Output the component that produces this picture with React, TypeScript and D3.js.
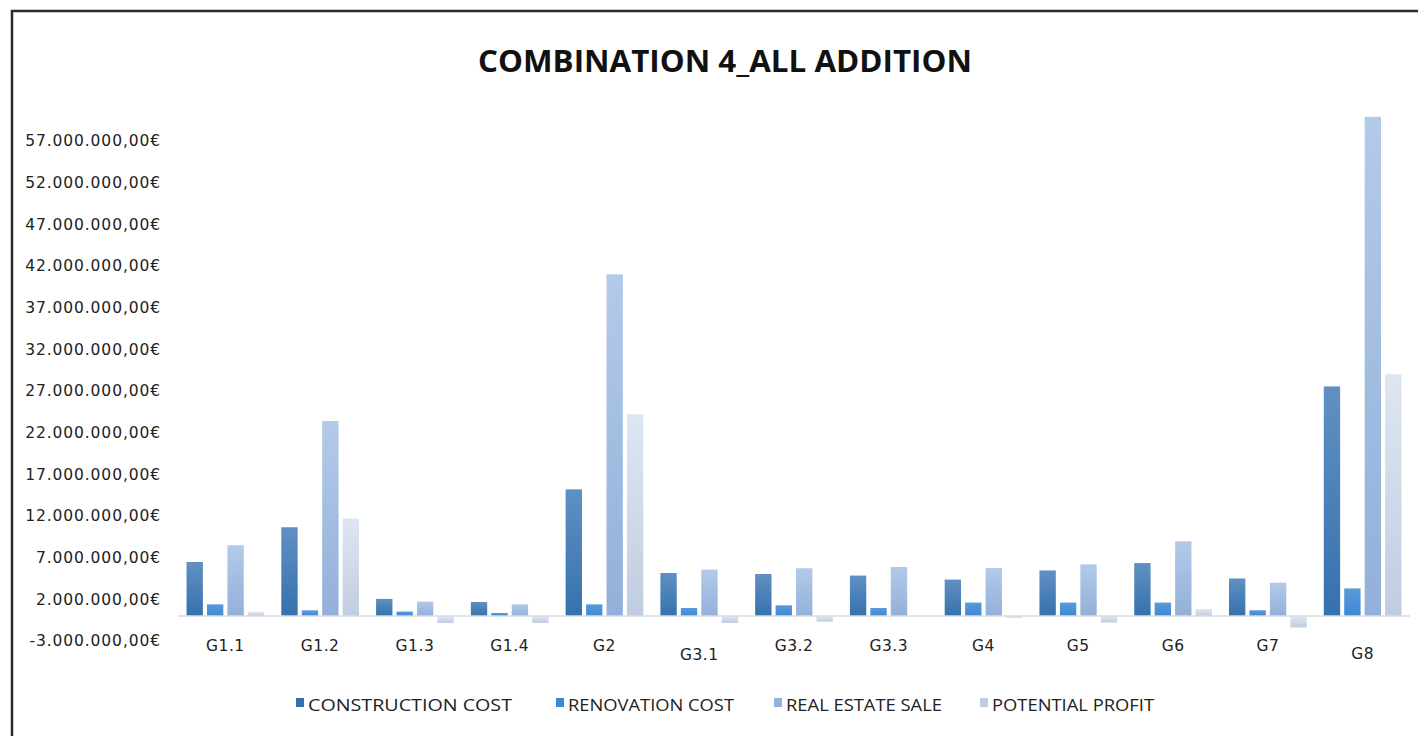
import React from "react";
import * as d3 from "d3";

const categories = ["G1.1", "G1.2", "G1.3", "G1.4", "G2", "G3.1", "G3.2", "G3.3", "G4", "G5", "G6", "G7", "G8"];
const seriesNames = ["CONSTRUCTION COST", "RENOVATION COST", "REAL ESTATE SALE", "POTENTIAL PROFIT"];
const constructionCost = [6.48e6, 10.65e6, 2.05e6, 1.68e6, 15.2e6, 5.16e6, 5.04e6, 4.85e6, 4.37e6, 5.47e6, 6.35e6, 4.5e6, 27.55e6];
const renovationCost = [1.4e6, 0.68e6, 0.53e6, 0.36e6, 1.4e6, 0.96e6, 1.28e6, 0.96e6, 1.61e6, 1.61e6, 1.61e6, 0.69e6, 3.31e6];
const realEstateSale = [8.49e6, 23.4e6, 1.73e6, 1.4e6, 41.0e6, 5.57e6, 5.73e6, 5.88e6, 5.75e6, 6.2e6, 8.97e6, 4.0e6, 59.9e6];
const potentialProfit = [0.5e6, 11.7e6, -0.84e6, -0.84e6, 24.2e6, -0.84e6, -0.67e6, 0, -0.2e6, -0.78e6, 0.83e6, -1.38e6, 29.0e6];
const yTicks = [-3e6, 2e6, 7e6, 12e6, 17e6, 22e6, 27e6, 32e6, 37e6, 42e6, 47e6, 52e6, 57e6];

const seriesValues = [constructionCost, renovationCost, realEstateSale, potentialProfit];
const gradients = [
  ["#6190c3", "#3571ad"],
  ["#5a9ad8", "#3d88d6"],
  ["#b3cae9", "#92b0d9"],
  ["#dee6f2", "#c0cde0"],
];

const locale = d3.formatLocale({
  decimal: ",",
  thousands: ".",
  grouping: [3],
  currency: ["", "€"],
  minus: "-",
});
const fmt = locale.format("$,.2f");

export default function App() {
  const W = 1418;
  const H = 736;
  const x = d3.scaleBand<string>().domain(categories).range([178, 1410]).paddingInner(0.18).paddingOuter(0.09);
  const xi = d3.scaleBand<number>().domain([0, 1, 2, 3]).range([0, x.bandwidth()]).paddingInner(0.2);
  const y = d3.scaleLinear().domain([-3e6, 57e6]).range([641, 141]);
  const labelDy: Record<string, number> = { "G3.1": 9, G8: 8 };

  const legendX = [296, 556, 774, 980];
  const legendW = [204, 166, 156, 162];

  return (
    <svg width={W} height={H} style={{ position: "absolute", left: 0, top: 0, background: "#fff" }}>
      <defs>
        {gradients.map((g, i) => (
          <linearGradient key={i} id={`g${i}`} x1="0" y1="0" x2="0" y2="1">
            <stop offset="0%" stopColor={g[0]} />
            <stop offset="100%" stopColor={g[1]} />
          </linearGradient>
        ))}
      </defs>
      <rect x={0} y={0} width={W} height={H} fill="#fff" />
      <path d={`M12,${H + 5} L12,11 L${W + 5},11`} fill="none" stroke="#2b2b2b" strokeWidth={2.5} />
      <text
        x={725}
        y={72}
        textAnchor="middle"
        fontFamily="'Open Sans', sans-serif"
        fontWeight={700}
        fontSize={31}
        textLength={494}
        lengthAdjust="spacingAndGlyphs"
        fill="#111"
      >
        COMBINATION 4_ALL ADDITION
      </text>
      {yTicks.map((t) => (
        <text
          key={t}
          x={161}
          y={y(t)}
          dy="0.35em"
          textAnchor="end"
          fontFamily="'DejaVu Sans', sans-serif"
          fontSize={15.5}
          letterSpacing={0.9}
          fill="#222"
        >
          {fmt(t)}
        </text>
      ))}
      {categories.map((c, ci) =>
        seriesValues.map((vals, si) => {
          const v = vals[ci];
          const y0 = y(0);
          const y1 = y(v);
          return (
            <rect
              key={`${c}-${si}`}
              x={(x(c) as number) + (xi(si) as number)}
              y={Math.min(y0, y1)}
              width={xi.bandwidth()}
              height={Math.max(Math.abs(y1 - y0), v === 0 ? 0 : 1)}
              fill={`url(#g${si})`}
            />
          );
        })
      )}
      <line x1={178} x2={1410} y1={y(0)} y2={y(0)} stroke="#d9dde3" strokeWidth={1.5} />
      {categories.map((c) => (
        <text
          key={c}
          x={(x(c) as number) + x.bandwidth() / 2}
          y={651 + (labelDy[c] || 0)}
          textAnchor="middle"
          fontFamily="'DejaVu Sans', sans-serif"
          fontSize={15.5}
          letterSpacing={0.5}
          fill="#222"
        >
          {c}
        </text>
      ))}
      {seriesNames.map((n, i) => (
        <g key={n}>
          <rect x={legendX[i]} y={698} width={8} height={9} fill={gradients[i][1]} />
          <text
            x={legendX[i] + 12}
            y={711}
            fontFamily="'Open Sans', sans-serif"
            fontSize={17}
            textLength={legendW[i]}
            lengthAdjust="spacingAndGlyphs"
            fill="#222"
          >
            {n}
          </text>
        </g>
      ))}
    </svg>
  );
}
